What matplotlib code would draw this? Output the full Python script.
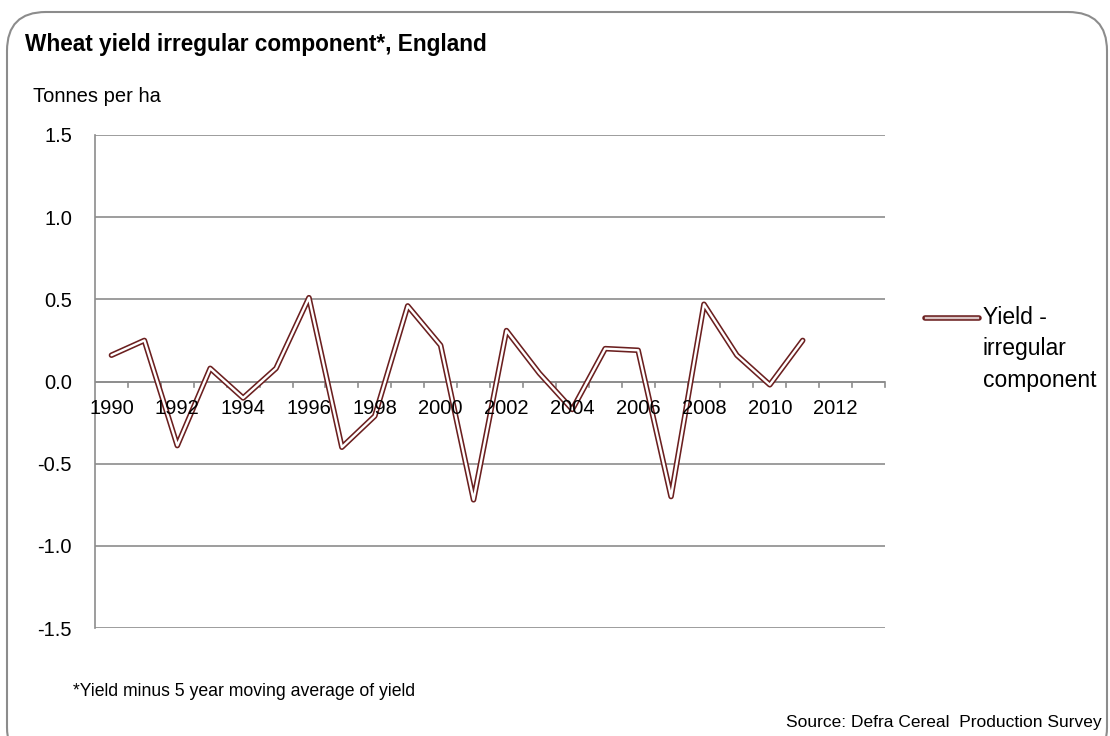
import matplotlib
matplotlib.use("Agg")
import matplotlib.pyplot as plt
from matplotlib.patches import FancyBboxPatch
from matplotlib.lines import Line2D

plt.rcParams['font.family'] = ['Liberation Sans', 'DejaVu Sans']

years = list(range(1990, 2014))
values = [0.16, 0.25, -0.39, 0.08, -0.10, 0.08, 0.51, -0.40, -0.21, 0.46,
          0.22, -0.72, 0.31, 0.05, -0.17, 0.20, 0.19, -0.70, 0.47, 0.16,
          -0.02, 0.25]
tick_labels = [str(y) if (y % 2 == 0) else "" for y in years]
yticks = [-1.5, -1.0, -0.5, 0.0, 0.5, 1.0, 1.5]

W, H = 1110, 736
fig = plt.figure(figsize=(W / 100, H / 100), dpi=100)

# rounded frame
frame = FancyBboxPatch((7 / W, -30 / H), 1100 / W, (724 + 30) / H,
                       boxstyle="round,pad=0,rounding_size=0.035",
                       transform=fig.transFigure, facecolor='white',
                       edgecolor='#8c8c8c', linewidth=1.5,
                       mutation_aspect=W / H, zorder=-5)
fig.patches.append(frame)

ax = fig.add_axes([95 / W, (H - 628) / H, (885 - 95) / W, (628 - 135) / H])
ax.set_zorder(2)
ax.set_facecolor('none')
x = list(range(len(values)))
ax.plot(x, values, color='#6b1f1f', lw=4.0, solid_joinstyle='round',
        solid_capstyle='round', zorder=3)
ax.plot(x, values, color='white', lw=1.7, solid_joinstyle='round',
        solid_capstyle='round', zorder=4)

ax.set_xlim(-0.5, len(years) - 0.5)
ax.set_ylim(-1.5, 1.5)
ax.set_yticks(yticks)
ax.set_yticklabels([f"{v:.1f}" for v in yticks], fontsize=14.5)
ax.tick_params(axis='y', length=0, pad=16.5)
ax.yaxis.grid(True, color='#8c8c8c', lw=1.2)
ax.set_axisbelow(True)
for s in ['top', 'right', 'bottom']:
    ax.spines[s].set_visible(False)
ax.spines['left'].set_color('#8c8c8c')
ax.spines['left'].set_linewidth(1.2)

# category axis at zero
ax.set_xticks([])
ax.axhline(0, color='#8c8c8c', lw=1.2, zorder=2)
for i in range(1, len(years) + 1):
    ax.plot([i - 0.5, i - 0.5], [0, -0.035], color='#8c8c8c', lw=1.2,
            zorder=2, clip_on=False)
for i, lab in enumerate(tick_labels):
    if lab:
        ax.text(i, -0.165, lab, ha='center', va='center', fontsize=14.5,
                zorder=5)

# legend
fig.add_artist(Line2D([925 / W, 979 / W], [(H - 318) / H] * 2,
                      color='#6b1f1f', lw=4.0, solid_capstyle='round',
                      transform=fig.transFigure))
fig.add_artist(Line2D([926 / W, 978 / W], [(H - 318) / H] * 2,
                      color='#d9c4c4', lw=1.7, transform=fig.transFigure))
for txt, yy in zip(["Yield -", "irregular", "component"], [318, 349, 380]):
    fig.text(983 / W, (H - yy) / H, txt, ha='left', va='center', fontsize=16.5)

fig.text(25 / W, (H - 45) / H, "Wheat yield irregular component*, England",
         fontsize=16.3, fontweight='bold', ha='left', va='center')
fig.text(33 / W, (H - 96) / H, "Tonnes per ha", fontsize=14.5, ha='left',
         va='center')
fig.text(73 / W, (H - 692) / H, "*Yield minus 5 year moving average of yield",
         fontsize=12.7, ha='left', va='center')
fig.text(1102 / W, (H - 722) / H, "Source: Defra Cereal  Production Survey",
         fontsize=12.5, ha='right', va='center')

fig.savefig("out.png", dpi=100)
